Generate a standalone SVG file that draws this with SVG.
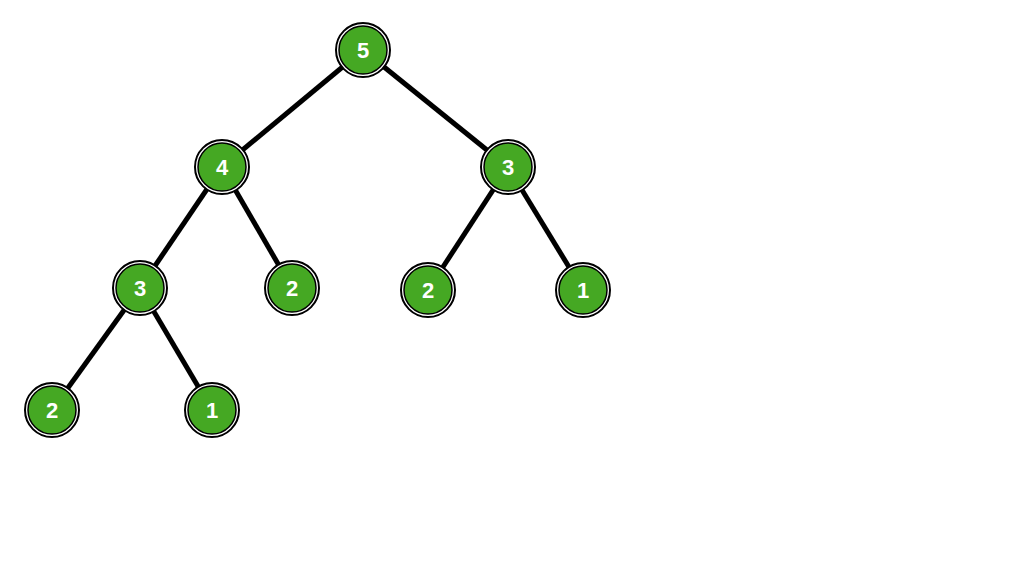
<svg xmlns="http://www.w3.org/2000/svg" width="1024" height="576" viewBox="0 0 1024 576">
<style>
.o{fill:#fff;stroke:#000;stroke-width:2}
.i{fill:#45a823;stroke:#000;stroke-width:1.5}
.t{font-family:"Liberation Sans",sans-serif;font-size:22px;font-weight:bold;fill:#fff;text-anchor:middle;dominant-baseline:central}
#edges line{stroke:#000;stroke-width:5}
</style>
<rect width="1024" height="576" fill="#fff"/>
<g id="edges">
<line x1="363" y1="50" x2="222" y2="167"/><line x1="363" y1="50" x2="508" y2="167"/>
<line x1="222" y1="167" x2="140" y2="288"/><line x1="222" y1="167" x2="292" y2="288"/>
<line x1="508" y1="167" x2="428" y2="290"/><line x1="508" y1="167" x2="583" y2="290"/>
<line x1="140" y1="288" x2="52" y2="410"/><line x1="140" y1="288" x2="212" y2="410"/>
</g>
<g id="n5"><circle class="o" cx="363" cy="50" r="27"/><circle class="i" cx="363" cy="50" r="24"/><text class="t" x="363" y="50">5</text></g>
<g id="n4"><circle class="o" cx="222" cy="167" r="27"/><circle class="i" cx="222" cy="167" r="24"/><text class="t" x="222" y="167">4</text></g>
<g id="n3a"><circle class="o" cx="508" cy="167" r="27"/><circle class="i" cx="508" cy="167" r="24"/><text class="t" x="508" y="167">3</text></g>
<g id="n3b"><circle class="o" cx="140" cy="288" r="27"/><circle class="i" cx="140" cy="288" r="24"/><text class="t" x="140" y="288">3</text></g>
<g id="n2a"><circle class="o" cx="292" cy="288" r="27"/><circle class="i" cx="292" cy="288" r="24"/><text class="t" x="292" y="288">2</text></g>
<g id="n2b"><circle class="o" cx="428" cy="290" r="27"/><circle class="i" cx="428" cy="290" r="24"/><text class="t" x="428" y="290">2</text></g>
<g id="n1a"><circle class="o" cx="583" cy="290" r="27"/><circle class="i" cx="583" cy="290" r="24"/><text class="t" x="583" y="290">1</text></g>
<g id="n2c"><circle class="o" cx="52" cy="410" r="27"/><circle class="i" cx="52" cy="410" r="24"/><text class="t" x="52" y="410">2</text></g>
<g id="n1b"><circle class="o" cx="212" cy="410" r="27"/><circle class="i" cx="212" cy="410" r="24"/><text class="t" x="212" y="410">1</text></g>
</svg>
